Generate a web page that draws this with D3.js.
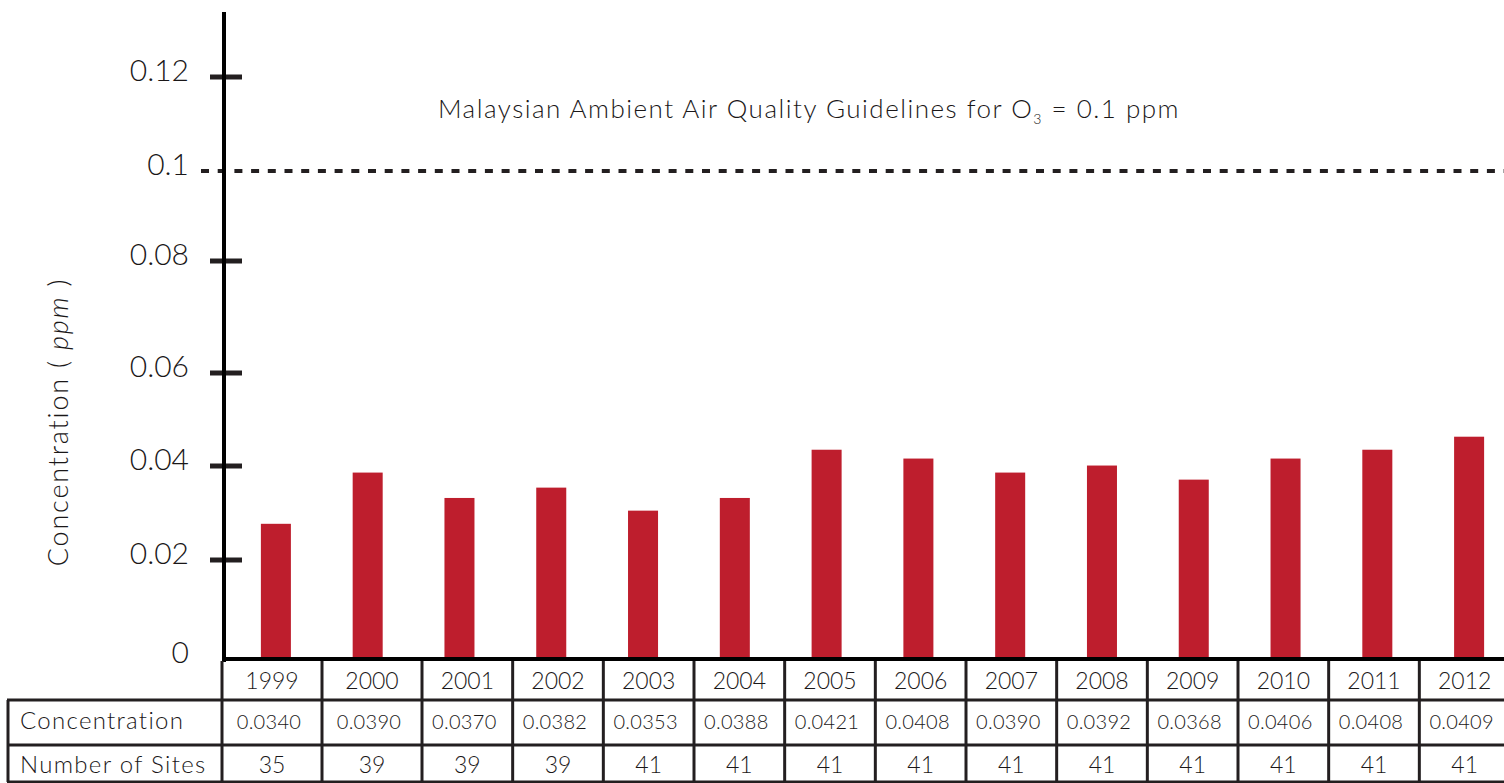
<!DOCTYPE html>
<html>
<head>
<meta charset="utf-8">
<script src="https://cdn.jsdelivr.net/npm/d3@7"></script>
<style>
  html, body { margin: 0; padding: 0; background: #fff; }
  svg { display: block; font-family: "Lato", "Open Sans", sans-serif; font-weight: 300; }
  text { fill: #1a1718; }
</style>
</head>
<body>
<div id="chart"></div>
<script>
// data
var years = ["1999", "2000", "2001", "2002", "2003", "2004", "2005", "2006", "2007", "2008", "2009", "2010", "2011", "2012"];
var barValues = [0.0277, 0.0386, 0.0332, 0.0354, 0.0305, 0.0332, 0.0435, 0.0416, 0.0386, 0.0401, 0.0371, 0.0416, 0.0435, 0.0463];
var tableConcentration = ["0.0340", "0.0390", "0.0370", "0.0382", "0.0353", "0.0388", "0.0421", "0.0408", "0.0390", "0.0392", "0.0368", "0.0406", "0.0408", "0.0409"];
var numberOfSites = ["35", "39", "39", "39", "41", "41", "41", "41", "41", "41", "41", "41", "41", "41"];
var yTicks = [0, 0.02, 0.04, 0.06, 0.08, 0.1, 0.12];
var yTickLabels = ["0", "0.02", "0.04", "0.06", "0.08", "0.1", "0.12"];
var guideline = 0.1;
var rowLabels = ["Concentration", "Number of Sites"];

var width = 1504, height = 783;
var ink = "#231f20", barColor = "#be1e2d";

var svg = d3.select("#chart").append("svg")
    .attr("width", width)
    .attr("height", height);

// the original axis is not evenly spaced, so map each tick to where it sits
var y = d3.scaleLinear()
    .domain(yTicks)
    .range([659, 560, 466, 373, 261, 171, 77]);

var x = d3.scaleBand()
    .domain(years)
    .range([230, 1515])
    .paddingInner(0.673)
    .paddingOuter(0.3365);

// table column edges: first two columns are a bit wider
var colEdge = d3.scaleLinear().domain([0, 2, 14]).range([222, 422, 1510]);
var axisX = 224;

// bars
svg.append("g").selectAll("rect")
    .data(barValues)
    .join("rect")
    .attr("x", function(d, i) { return x(years[i]); })
    .attr("width", x.bandwidth())
    .attr("y", function(d) { return y(d); })
    .attr("height", function(d) { return y(0) - y(d); })
    .attr("fill", barColor);

// guideline
svg.append("line")
    .attr("x1", 201).attr("x2", width)
    .attr("y1", y(guideline)).attr("y2", y(guideline))
    .attr("stroke", ink)
    .attr("stroke-width", 4)
    .attr("stroke-dasharray", "8,8.7");

var title = svg.append("text")
    .attr("x", 809)
    .attr("y", 118)
    .attr("text-anchor", "middle")
    .style("font-size", "26px")
    .style("letter-spacing", "1.5px");
title.append("tspan").text("Malaysian Ambient Air Quality Guidelines for O");
title.append("tspan").attr("dy", 6).style("font-size", "14px").text("3");
title.append("tspan").attr("dy", -6).text(" = 0.1 ppm");

// y axis
var yAxis = d3.axisLeft(y)
    .tickValues(yTicks)
    .tickFormat(function(d, i) { return yTickLabels[i]; })
    .tickSize(0);

var gy = svg.append("g")
    .attr("transform", "translate(" + axisX + ",0)")
    .call(yAxis);
gy.select(".domain").remove();
gy.selectAll(".tick text")
    .attr("x", -35)
    .attr("dy", "0.1em")
    .style("font-size", "30px")
    .style("font-family", "Lato, 'Open Sans', sans-serif")
    .style("font-weight", 300)
    .attr("fill", "#1a1718");

// crossing tick marks (0 is the baseline, 0.1 is the dotted guideline)
svg.append("g").selectAll("line")
    .data(yTicks.filter(function(d) { return d !== 0 && d !== guideline; }))
    .join("line")
    .attr("x1", 210).attr("x2", 242)
    .attr("y1", function(d) { return y(d); })
    .attr("y2", function(d) { return y(d); })
    .attr("stroke", ink)
    .attr("stroke-width", 5);

svg.append("line")
    .attr("x1", axisX).attr("x2", axisX)
    .attr("y1", 12).attr("y2", 662)
    .attr("stroke", "#000")
    .attr("stroke-width", 4);

svg.append("line")
    .attr("x1", axisX - 2).attr("x2", width)
    .attr("y1", y(0)).attr("y2", y(0))
    .attr("stroke", "#000")
    .attr("stroke-width", 4);

// y label
var ylab = svg.append("text")
    .attr("transform", "translate(68,422) rotate(-90)")
    .attr("text-anchor", "middle")
    .style("font-size", "27px")
    .style("letter-spacing", "1.8px");
ylab.append("tspan").text("Concentration ( ");
ylab.append("tspan").style("font-style", "italic").text("ppm");
ylab.append("tspan").text(" )");

// data table
var rowTop = [661, 700, 745], rowBottom = 782;
var table = svg.append("g");

// horizontal rules
table.selectAll("line.h")
    .data([{ y: 700, x1: 7 }, { y: 745, x1: 7 }, { y: rowBottom, x1: 7 }])
    .join("line")
    .attr("class", "h")
    .attr("x1", function(d) { return d.x1; })
    .attr("x2", width)
    .attr("y1", function(d) { return d.y; })
    .attr("y2", function(d) { return d.y; })
    .attr("stroke", ink)
    .attr("stroke-width", 3);

// vertical rules
table.selectAll("line.v")
    .data(d3.range(15))
    .join("line")
    .attr("class", "v")
    .attr("x1", function(i) { return colEdge(i); })
    .attr("x2", function(i) { return colEdge(i); })
    .attr("y1", rowTop[0])
    .attr("y2", rowBottom)
    .attr("stroke", ink)
    .attr("stroke-width", 3);

table.append("line")
    .attr("x1", 8).attr("x2", 8)
    .attr("y1", 700).attr("y2", rowBottom)
    .attr("stroke", ink)
    .attr("stroke-width", 3);

function colCenter(i) { return (colEdge(i) + colEdge(i + 1)) / 2; }

table.selectAll("text.year")
    .data(years)
    .join("text")
    .attr("class", "year")
    .attr("x", function(d, i) { return colCenter(i); })
    .attr("y", 689)
    .attr("text-anchor", "middle")
    .style("font-size", "23px")
    .text(function(d) { return d; });

table.selectAll("text.conc")
    .data(tableConcentration)
    .join("text")
    .attr("class", "conc")
    .attr("x", function(d, i) { return colCenter(i) - 3; })
    .attr("y", 729)
    .attr("text-anchor", "middle")
    .style("font-size", "20px")
    .style("letter-spacing", "0.3px")
    .text(function(d) { return d; });

table.selectAll("text.sites")
    .data(numberOfSites)
    .join("text")
    .attr("class", "sites")
    .attr("x", function(d, i) { return colCenter(i); })
    .attr("y", 773)
    .attr("text-anchor", "middle")
    .style("font-size", "23px")
    .text(function(d) { return d; });

table.selectAll("text.rowlabel")
    .data(rowLabels)
    .join("text")
    .attr("class", "rowlabel")
    .attr("x", 20)
    .attr("y", function(d, i) { return i === 0 ? 729 : 773; })
    .style("font-size", "24px")
    .style("letter-spacing", "1.3px")
    .text(function(d) { return d; });
</script>
</body>
</html>
